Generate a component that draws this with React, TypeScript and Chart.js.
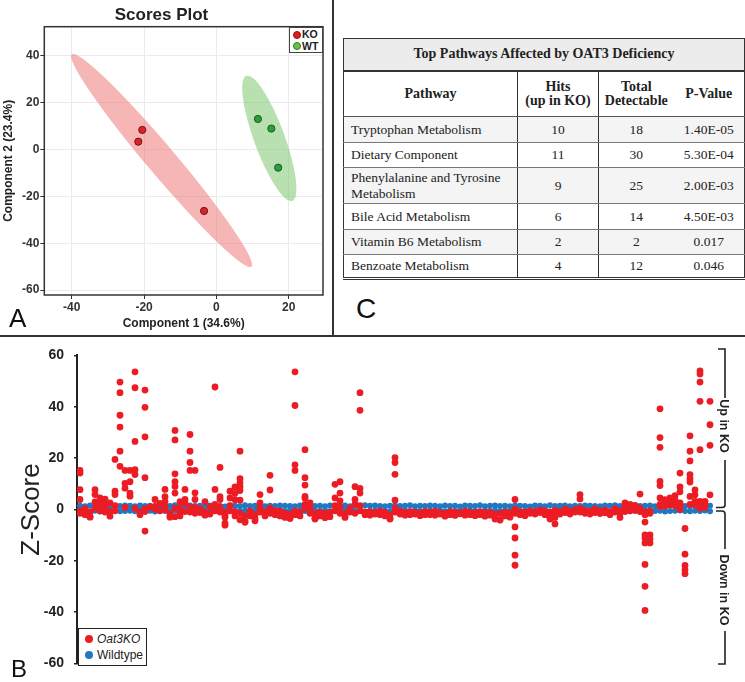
import React, { useEffect, useRef } from "react";
import { Chart, registerables } from "chart.js";

Chart.register(...registerables);

const SANS = "'Liberation Sans', Arial, Helvetica, sans-serif";
const SERIF = "'Liberation Serif', 'Times New Roman', Times, serif";

// ---------------- Panel A : PLS-DA scores ----------------
const koScoreX = [-20.5, -21.6, -3.4];
const koScoreY = [8.4, 3.4, -26.2];
const wtScoreX = [11.5, 15.2, 17.1];
const wtScoreY = [13.1, 9.0, -7.7];
// confidence ellipses: major-axis end points (x1, y1, x2, y2) and minor/major ratio
const koEllipse = [-40.0, 40.7, 9.7, -50.0, 0.104];
const wtEllipse = [8.3, 31.5, 21.0, -21.9, 0.23];
const scoreXTicks = [-40, -20, 0, 20];
const scoreYTicks = [-60, -40, -20, 0, 20, 40];

// ---------------- Panel C : pathway table ----------------
const pathways = [
  "Tryptophan Metabolism",
  "Dietary Component",
  "Phenylalanine and Tyrosine Metabolism",
  "Bile Acid Metabolism",
  "Vitamin B6 Metabolism",
  "Benzoate Metabolism",
];
const hits = [10, 11, 9, 6, 2, 4];
const totals = [18, 30, 25, 14, 2, 12];
const pValues = ["1.40E-05", "5.30E-04", "2.00E-03", "4.50E-03", "0.017", "0.046"];

// ---------------- Panel B : Z-scores by metabolite index ----------------
const zTicks = [-60, -40, -20, 0, 20, 40, 60];
// wildtype replicates (metabolite index 0..126)
const WT_TOP = [
  1.5, 1.3, 1.6, 1.4, 1.5, 1.7, 1.3, 1.5, 1.4, 1.6,
  1.5, 1.3, 1.6, 1.4, 1.5, 1.2, 1.6, 1.5, 1.4, 1.7,
  1.3, 1.5, 1.6, 1.4, 1.5, 1.3, 1.6, 1.5, 1.4, 1.2,
  1.6, 1.5, 1.3, 1.7, 1.4, 1.5, 1.6, 1.3, 1.5, 1.4,
  1.6, 1.5, 1.4, 1.3, 1.6, 1.5, 1.7, 1.4, 1.5, 1.3,
  1.6, 1.4, 1.5, 1.6, 1.3, 1.5, 1.4, 1.7, 1.5, 1.6,
  1.4, 1.3, 1.5, 1.6, 1.4, 1.5, 1.7, 1.3, 1.5, 1.4,
  1.6, 1.5, 1.3, 1.6, 1.4, 1.5, 1.2, 1.6, 1.5, 1.4,
  1.7, 1.3, 1.5, 1.6, 1.4, 1.5, 1.3, 1.6, 1.5, 1.4,
  1.2, 1.6, 1.5, 1.3, 1.7, 1.4, 1.5, 1.6, 1.3, 1.5,
  1.4, 1.6, 1.5, 1.4, 1.3, 1.6, 1.5, 1.7, 1.4, 1.5,
  1.3, 1.6, 1.4, 1.5, 1.6, 1.3, 1.5, 1.4, 1.7, 1.5,
  1.6, 1.4, 1.3, 1.5, 1.6, 1.4, 1.5,
];
const WT_BOT = [
  -0.6, -0.4, -0.7, -0.5, -0.8, -0.5, -0.6, -0.4, -0.7, -0.6,
  -0.5, -0.7, -0.4, -0.6, -0.5, -0.8, -0.5, -0.6, -0.7, -0.4,
  -0.6, -0.5, -0.7, -0.6, -0.4, -0.8, -0.5, -0.6, -0.5, -0.7,
  -0.4, -0.6, -0.7, -0.5, -0.6, -0.4, -0.7, -0.5, -0.8, -0.6,
  -0.5, -0.6, -0.4, -0.7, -0.5, -0.6, -0.8, -0.5, -0.6, -0.4,
  -0.7, -0.5, -0.6, -0.4, -0.7, -0.6, -0.5, -0.8, -0.6, -0.5,
  -0.4, -0.6, -0.7, -0.5, -0.6, -0.4, -0.7, -0.5, -0.6, -0.8,
  -0.5, -0.6, -0.4, -0.7, -0.5, -0.6, -0.5, -0.7, -0.4, -0.6,
  -0.8, -0.5, -0.6, -0.4, -0.7, -0.5, -0.6, -0.5, -0.7, -0.6,
  -0.4, -0.6, -0.7, -0.5, -0.8, -0.6, -0.5, -0.4, -0.7, -0.6,
  -0.5, -0.6, -0.4, -0.7, -0.5, -0.6, -0.8, -0.5, -0.6, -0.4,
  -0.7, -0.5, -0.6, -0.4, -0.7, -0.6, -0.5, -0.8, -0.6, -0.5,
  -0.4, -0.6, -0.7, -0.5, -0.6, -0.4, -0.7,
];
// Oat3KO replicates near baseline (null = no point)
const KO_B1 = [
  -0.5, 0.3, -1.0, 3.0, 2.0, 1.0, -0.8, 1.5, null, 0.8,
  null, 0.5, -1.0, 0.2, 1.0, 1.2, 2.4, 1.0, -1.5, 0.5,
  0.5, 2.5, 1.0, 0.8, 0.3, -1.0, 1.0, 2.0, 1.0, -1.0,
  1.5, -0.8, -1.5, -2.5, -0.5, -2.0, 0.5, -1.0, 0.5, -0.5,
  -0.5, -1.5, -1.8, -0.5, -1.0, 2.0, 0.5, -1.5, -1.0, -1.5,
  -1.0, 1.5, 1.0, -1.5, 0.5, 2.0, 1.5, -1.0, -0.8, -1.2,
  -0.5, -1.2, -2.0, 0.5, -0.5, -1.2, -0.8, -1.0, -1.3, -0.7,
  -1.0, -0.6, -1.2, -1.5, -0.8, -1.0, -1.3, -0.6, -1.0, -1.2,
  -0.8, -1.2, -1.0, -1.8, -1.5, -1.0, -1.2, 0.0, -0.8, -1.0,
  -0.5, -0.8, -0.2, -0.5, -1.0, -0.3, -0.8, 0.2, -0.5, -0.2,
  0.5, -0.3, -0.6, 0.2, -0.5, -0.3, -0.8, 0.3, -0.5, 1.0,
  0.8, 1.0, 0.5, -1.0, -0.5, null, 2.0, 2.8, 3.0, 2.5,
  1.5, null, 2.0, 1.8, 0.5, 0.8, null,
];
const KO_B2 = [
  -1.5, -2.0, -2.8, 0.5, -0.5, -1.0, -2.6, -0.5, null, null,
  null, null, -2.0, -0.8, null, 0.2, -0.5, 0.0, -2.5, -2.8,
  -1.5, -0.8, -1.0, -1.5, -1.2, -2.0, -1.8, -0.5, -1.0, -2.0,
  -0.5, -2.5, -4.0, -4.5, -2.5, -3.5, -1.0, -2.5, -1.5, -2.0,
  -2.5, -2.8, -3.5, -2.0, -2.5, 0.5, -1.5, -3.5, -2.5, -3.2,
  -2.8, -0.5, -1.5, -2.5, -1.0, -1.5, -0.5, -2.0, -2.2, -1.8,
  -2.0, -2.5, -3.5, -1.0, -1.8, -2.2, -2.0, -1.8, -2.4, -2.0,
  -2.0, -2.2, -1.8, -2.6, -2.0, -2.3, -1.7, -2.2, -2.0, -2.4,
  -2.0, -2.6, -2.2, -3.7, -4.0, -2.5, -3.0, -1.5, -2.0, -2.4,
  -1.5, -1.8, -1.2, -2.0, -2.5, -1.5, -1.8, -1.2, -1.8, -1.0,
  -1.0, -1.5, -1.8, -1.2, -1.6, -1.3, -2.0, -1.0, -1.5, -0.8,
  -0.5, -0.3, -0.8, -2.0, -1.5, null, 1.2, 1.8, 2.2, 2.0,
  null, null, null, null, null, null, null,
];
// Oat3KO outlying replicates: [metabolite index, z values...]
const KO_COLS: number[][] = [
  [0, 15.2, 14.2, 7.7, 3.9],
  [2, -3.0],
  [3, 7.7, 5.8],
  [4, 4.5, 3.0],
  [5, 4.0, 2.5],
  [6, 2.6],
  [7, 19.5, 7.1, 5.8],
  [8, 49.6, 45.5, 36.7, 32.1, 22.7, 16.8],
  [9, 15.2, 10.2, 8.3],
  [10, 15.2, 10.8, 6.4, 5.2],
  [11, 53.6, 47.4, 26.5, 15.5, 13.6],
  [13, 46.5, 39.8, 28.3, 12.4, -8.4],
  [15, 3.9],
  [17, 7.8, 5.0, 3.1],
  [18, -3.0],
  [19, 30.8, 27.1, 13.9, 10.8, 9.0, 6.4],
  [20, 3.1, -2.5],
  [21, 7.8, 3.9],
  [22, 29.2, 22.7, 18.3, 15.2],
  [23, 15.2, 6.5, 3.9],
  [25, 3.1, -2.2],
  [27, 47.7, 7.8],
  [28, 16.4, 5.0, 3.9],
  [29, -3.0, -5.3, -6.1],
  [30, 7.1, 4.5],
  [31, 8.8, 6.3, 3.8],
  [32, 22.7, 12.0, 10.4, 8.9, 7.4, 3.6],
  [33, -5.0],
  [35, -4.4],
  [36, 5.8, 2.6],
  [38, 13.3, 7.6],
  [41, -3.1],
  [42, -3.1],
  [43, 53.6, 40.5, 17.4, 15.2],
  [45, 23.3, 12.4, 9.5, 5.1, 4.4],
  [46, 2.6],
  [47, -3.7],
  [51, 9.8, 4.5],
  [52, 10.8, 6.4, 3.3],
  [53, -3.1],
  [55, 8.9, 3.9],
  [56, 45.5, 38.6, 8.2, 6.4],
  [62, -3.7],
  [63, 20.2, 18.3, 13.7, 3.6],
  [84, -4.1],
  [87, 3.9, -6.8, -11.1, -17.8, -21.7],
  [94, -3.7],
  [95, -3.1, -5.6],
  [100, 5.8, 4.1],
  [108, -3.1],
  [109, 2.6],
  [110, 2.0],
  [111, 1.6],
  [112, 6.0],
  [113, -4.9, -9.9, -11.1, -13.0, -21.4, -29.9, -39.3],
  [114, -9.9, -11.5, -13.0],
  [116, 39.2, 28.0, 24.2, 10.9, 9.3, 4.5],
  [117, 3.8, 1.3],
  [118, 4.5, 1.8],
  [119, 5.4, 3.8, 1.5],
  [120, 14.2, 8.8, 6.9, 2.6, 0.1],
  [121, -7.4, -17.4, -21.8, -23.5, -25.0],
  [122, 28.7, 22.7, 18.9, 13.6, 12.0, 10.7, 5.1],
  [123, 7.6, 5.7, 3.2],
  [124, 54.0, 52.8, 49.6, 42.1, 23.3, 3.2, 1.6],
  [125, 3.2, 1.6],
  [126, 42.1, 33.0, 25.0, 5.7],
];

const ellipsePlugin = {
  id: "ellipses",
  beforeDatasetsDraw(chart: any) {
    const { ctx, chartArea, scales } = chart;
    const xs = scales.x;
    const ys = scales.y;
    const draw = (e: number[], color: string) => {
      const [x1, y1, x2, y2, ratio] = e;
      const px1 = xs.getPixelForValue(x1);
      const py1 = ys.getPixelForValue(y1);
      const px2 = xs.getPixelForValue(x2);
      const py2 = ys.getPixelForValue(y2);
      const a = Math.hypot(px2 - px1, py2 - py1) / 2;
      const ang = Math.atan2(py2 - py1, px2 - px1);
      ctx.save();
      ctx.beginPath();
      ctx.rect(chartArea.left, chartArea.top, chartArea.width, chartArea.height);
      ctx.clip();
      ctx.beginPath();
      ctx.ellipse((px1 + px2) / 2, (py1 + py2) / 2, a, a * ratio, ang, 0, Math.PI * 2);
      ctx.fillStyle = color;
      ctx.fill();
      ctx.restore();
    };
    draw(koEllipse, "rgba(240,110,110,0.5)");
    draw(wtEllipse, "rgba(115,194,100,0.5)");
  },
};

const framePlugin = {
  id: "frame",
  afterDraw(chart: any) {
    const { ctx, chartArea } = chart;
    ctx.save();
    ctx.strokeStyle = "#333";
    ctx.lineWidth = 1.5;
    ctx.strokeRect(chartArea.left, chartArea.top, chartArea.width, chartArea.height);
    ctx.restore();
  },
};

function ScoresChart() {
  const ref = useRef<HTMLCanvasElement | null>(null);
  useEffect(() => {
    if (!ref.current) return;
    const chart = new Chart(ref.current, {
      type: "scatter",
      data: {
        datasets: [
          {
            label: "KO",
            data: koScoreX.map((x, i) => ({ x, y: koScoreY[i] })),
            backgroundColor: "#d7242a",
            borderColor: "#7a1416",
            borderWidth: 1,
            pointRadius: 3.6,
          },
          {
            label: "WT",
            data: wtScoreX.map((x, i) => ({ x, y: wtScoreY[i] })),
            backgroundColor: "#2e9c3c",
            borderColor: "#185e20",
            borderWidth: 1,
            pointRadius: 3.6,
          },
        ],
      },
      options: {
        responsive: false,
        animation: false,
        layout: { padding: { left: 0, right: 9, top: 0, bottom: 0 } },
        plugins: {
          legend: { display: false },
          tooltip: { enabled: false },
          title: {
            display: true,
            text: "Scores Plot",
            color: "#222",
            font: { family: SANS, size: 17, weight: "bold" },
            padding: { top: 5, bottom: 1.3 },
          },
        },
        scales: {
          x: {
            type: "linear",
            min: -47.6,
            max: 29.5,
            afterBuildTicks: (s: any) => {
              s.ticks = scoreXTicks.map((v) => ({ value: v }));
            },
            afterFit: (s: any) => {
              s.height = 40;
            },
            grid: { color: "#ebebeb", tickColor: "#333", tickLength: 4 },
            border: { display: false },
            ticks: { color: "#333", padding: 1, font: { family: SANS, size: 12, weight: "bold" } },
            title: {
              display: true,
              text: "Component 1 (34.6%)",
              color: "#222",
              font: { family: SANS, size: 12, weight: "bold" },
              padding: { top: 0, bottom: 4.5 },
            },
          },
          y: {
            type: "linear",
            min: -62.1,
            max: 52.5,
            afterBuildTicks: (s: any) => {
              s.ticks = scoreYTicks.map((v) => ({ value: v }));
            },
            afterFit: (s: any) => {
              s.width = 44.3;
            },
            grid: { color: "#ebebeb", tickColor: "#333", tickLength: 4 },
            border: { display: false },
            ticks: { color: "#333", padding: 1, font: { family: SANS, size: 12, weight: "bold" } },
            title: {
              display: true,
              text: "Component 2 (23.4%)",
              color: "#222",
              font: { family: SANS, size: 12, weight: "bold" },
              padding: { top: 1, bottom: 0 },
            },
          },
        },
      },
      plugins: [ellipsePlugin, framePlugin],
    } as any);
    return () => chart.destroy();
  }, []);
  return (
    <canvas
      ref={ref}
      width={332}
      height={335}
      style={{ position: "absolute", left: 0, top: 0, width: 332, height: 335 }}
    />
  );
}

function ZScoreChart() {
  const ref = useRef<HTMLCanvasElement | null>(null);
  useEffect(() => {
    if (!ref.current) return;
    const koPoints: { x: number; y: number }[] = [];
    [KO_B1, KO_B2].forEach((arr) =>
      arr.forEach((v, i) => {
        if (v !== null) koPoints.push({ x: i, y: v as number });
      })
    );
    KO_COLS.forEach(([idx, ...zs]) => zs.forEach((z) => koPoints.push({ x: idx, y: z })));
    const wtPoints: { x: number; y: number }[] = [];
    [WT_TOP, WT_BOT].forEach((arr) => arr.forEach((v, i) => wtPoints.push({ x: i, y: v })));

    const chart = new Chart(ref.current, {
      type: "scatter",
      data: {
        datasets: [
          {
            label: "Oat3KO",
            data: koPoints,
            backgroundColor: "#ec1c24",
            borderWidth: 0,
            pointRadius: 3.4,
          },
          {
            label: "Wildtype",
            data: wtPoints,
            backgroundColor: "#1f78c1",
            borderWidth: 0,
            pointRadius: 3,
          },
        ],
      },
      options: {
        responsive: false,
        animation: false,
        layout: { padding: { left: 0, right: 28, top: 12.1, bottom: 13.7 } },
        plugins: { legend: { display: false }, tooltip: { enabled: false } },
        scales: {
          x: { type: "linear", min: -0.6, max: 127.4, display: false },
          y: {
            type: "linear",
            min: -60,
            max: 60,
            afterBuildTicks: (s: any) => {
              s.ticks = zTicks.map((v) => ({ value: v }));
            },
            afterFit: (s: any) => {
              s.width = 77;
            },
            grid: { drawOnChartArea: false, tickLength: 3, tickColor: "#222", lineWidth: 1.5 },
            border: { display: true, color: "#222", width: 2 },
            ticks: { color: "#222", padding: 10, font: { family: SANS, size: 14, weight: "bold" } },
            title: {
              display: true,
              text: "Z-Score",
              color: "#222",
              font: { family: SANS, size: 26 },
              padding: { top: 16.4, bottom: 0 },
            },
          },
        },
      },
    } as any);
    return () => chart.destroy();
  }, []);
  return (
    <canvas
      ref={ref}
      width={745}
      height={345}
      style={{ position: "absolute", left: 0, top: 337, width: 745, height: 345 }}
    />
  );
}

const cellBase: React.CSSProperties = {
  padding: "0 5px",
  verticalAlign: "middle",
  borderBottom: "1px solid #777",
};

function PathwayTable() {
  const rowHeights = [26, 25, 36, 26, 25, 24];
  return (
    <table
      style={{
        position: "absolute",
        left: 343,
        top: 38,
        width: 401,
        borderCollapse: "collapse",
        tableLayout: "fixed",
        fontFamily: SERIF,
        fontSize: 13.5,
        color: "#222",
        border: "1.5px solid #333",
        borderBottom: "3px double #333",
      }}
    >
      <colgroup>
        <col style={{ width: 174 }} />
        <col style={{ width: 81 }} />
        <col style={{ width: 75 }} />
        <col style={{ width: 71 }} />
      </colgroup>
      <tbody>
        <tr style={{ height: 32, background: "#ececec" }}>
          <td
            colSpan={4}
            style={{
              textAlign: "center",
              fontWeight: "bold",
              fontSize: 14,
              borderBottom: "2px solid #333",
              verticalAlign: "middle",
            }}
          >
            Top Pathways Affected by OAT3 Deficiency
          </td>
        </tr>
        <tr style={{ height: 46, fontWeight: "bold", fontSize: 14, lineHeight: "14px" }}>
          <td style={{ ...cellBase, textAlign: "center", borderRight: "1.5px solid #333", borderBottom: "1px solid #555" }}>
            Pathway
          </td>
          <td style={{ ...cellBase, textAlign: "center", borderRight: "1.5px solid #333", borderBottom: "1px solid #555" }}>
            Hits
            <br />
            (up in KO)
          </td>
          <td style={{ ...cellBase, textAlign: "center", borderBottom: "1px solid #555" }}>
            Total
            <br />
            Detectable
          </td>
          <td style={{ ...cellBase, textAlign: "center", borderBottom: "1px solid #555" }}>P-Value</td>
        </tr>
        {pathways.map((p, i) => (
          <tr
            key={p}
            style={{
              height: rowHeights[i],
              lineHeight: "15.5px",
              background: i % 2 === 0 ? "#f4f4f4" : "#ffffff",
            }}
          >
            <td style={{ ...cellBase, textAlign: "left", paddingLeft: 7, borderRight: "1.5px solid #333" }}>{p}</td>
            <td style={{ ...cellBase, textAlign: "center", borderRight: "1.5px solid #333" }}>{hits[i]}</td>
            <td style={{ ...cellBase, textAlign: "center" }}>{totals[i]}</td>
            <td style={{ ...cellBase, textAlign: "center" }}>{pValues[i]}</td>
          </tr>
        ))}
      </tbody>
    </table>
  );
}

const dot = (color: string, left: number, top: number, size: number, border?: string): React.CSSProperties => ({
  position: "absolute",
  left,
  top,
  width: size,
  height: size,
  borderRadius: "50%",
  background: color,
  boxSizing: "border-box",
  border: border ? `1px solid ${border}` : "none",
});

export default function App() {
  return (
    <div
      style={{
        position: "absolute",
        left: 0,
        top: 0,
        width: 745,
        height: 682,
        background: "#fff",
        overflow: "hidden",
      }}
    >
      <ScoresChart />
      <ZScoreChart />
      <PathwayTable />

      {/* legend of panel A */}
      <div
        style={{
          position: "absolute",
          left: 289,
          top: 27,
          width: 34,
          height: 26,
          border: "1px solid #444",
          boxSizing: "border-box",
          background: "#fff",
          fontFamily: SANS,
          fontSize: 10.5,
          fontWeight: "bold",
          color: "#222",
        }}
      >
        <span style={dot("#e41a1c", 3, 3, 8, "#9a1010")} />
        <span style={{ position: "absolute", left: 12, top: 1, lineHeight: "11px" }}>KO</span>
        <span style={dot("#6cbf4a", 3, 14, 8, "#2f7a20")} />
        <span style={{ position: "absolute", left: 12, top: 12.5, lineHeight: "11px" }}>WT</span>
      </div>

      {/* legend of panel B */}
      <div
        style={{
          position: "absolute",
          left: 78,
          top: 628,
          width: 69,
          height: 38,
          border: "1px solid #222",
          boxSizing: "border-box",
          background: "#fff",
          fontFamily: SANS,
          fontSize: 12,
          color: "#222",
        }}
      >
        <span style={dot("#ec1c24", 6, 6, 8)} />
        <span style={{ position: "absolute", left: 18, top: 3, lineHeight: "14px", fontStyle: "italic" }}>Oat3KO</span>
        <span style={dot("#1f78c1", 6, 22, 8)} />
        <span style={{ position: "absolute", left: 18, top: 19, lineHeight: "14px" }}>Wildtype</span>
      </div>

      {/* divider lines */}
      <div style={{ position: "absolute", left: 332, top: 0, width: 2, height: 337, background: "#333" }} />
      <div style={{ position: "absolute", left: 0, top: 335, width: 745, height: 2, background: "#333" }} />

      {/* panel letters */}
      <div style={{ position: "absolute", left: 9, top: 305, fontFamily: SANS, fontSize: 26, lineHeight: "26px", color: "#111" }}>A</div>
      <div style={{ position: "absolute", left: 11, top: 657, fontFamily: SANS, fontSize: 24, lineHeight: "24px", color: "#111" }}>B</div>
      <div style={{ position: "absolute", left: 356, top: 295, fontFamily: SANS, fontSize: 28, lineHeight: "28px", color: "#111" }}>C</div>

      {/* brackets of panel B */}
      <svg width={745} height={682} style={{ position: "absolute", left: 0, top: 0, pointerEvents: "none" }}>
        <g stroke="#222" strokeWidth={1.6} fill="none">
          <path d="M718 349 H725 V398" />
          <path d="M725 460 V505 Q725 507.5 722 507.5 H716" />
          <path d="M716 511 H722 Q725 511 725 514 V549" />
          <path d="M725 631 V664 H718" />
        </g>
        <text
          transform="translate(724,426) rotate(90)"
          textAnchor="middle"
          dominantBaseline="central"
          fontFamily={SANS}
          fontSize={12.5}
          fontWeight="bold"
          fill="#222"
        >
          Up in KO
        </text>
        <text
          transform="translate(724,590) rotate(90)"
          textAnchor="middle"
          dominantBaseline="central"
          fontFamily={SANS}
          fontSize={12.5}
          fontWeight="bold"
          fill="#222"
        >
          Down in KO
        </text>
      </svg>
    </div>
  );
}
